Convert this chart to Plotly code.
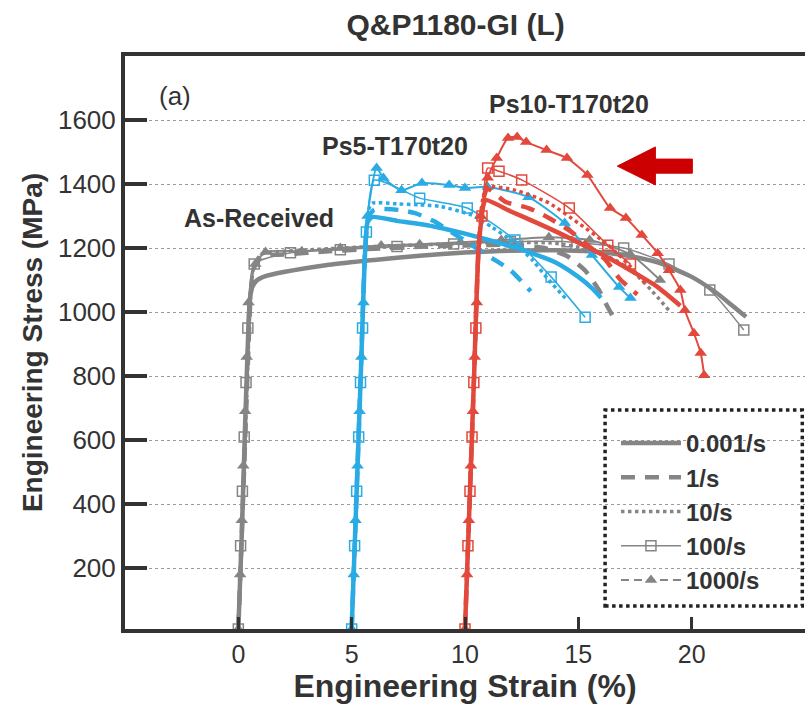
import plotly.graph_objects as go

# ---------------- data ----------------
rates = ["0.001/s", "1/s", "10/s", "100/s", "1000/s"]

# As-Received (gray)
ar_0001_x = [0, 0.15, 0.3, 0.42, 0.5, 0.6, 0.8, 1.2, 2, 4, 6, 8, 10, 12, 14, 15.5, 17, 18.5, 20, 21, 21.8, 22.4]
ar_0001_y = [10, 300, 650, 900, 1030, 1075, 1098, 1112, 1125, 1148, 1163, 1176, 1186, 1192, 1193, 1190, 1178, 1155, 1110, 1065, 1020, 985]
ar_1_x = [0, 0.2, 0.4, 0.55, 0.7, 1.0, 1.3, 2, 4, 6, 8, 10, 12, 13.5, 14.5, 15.3, 15.9, 16.3, 16.7]
ar_1_y = [10, 400, 800, 1060, 1140, 1170, 1178, 1180, 1190, 1198, 1204, 1208, 1210, 1200, 1175, 1130, 1070, 1015, 965]
ar_10_x = [0, 0.2, 0.4, 0.55, 0.7, 1.0, 1.3, 2, 4, 6, 8, 10, 12, 14, 15.5, 16.7, 17.5, 18.2, 19.0]
ar_10_y = [10, 400, 800, 1060, 1150, 1180, 1186, 1190, 1198, 1205, 1210, 1215, 1218, 1215, 1195, 1160, 1120, 1070, 1005]
ar_100_x = [0, 0.1, 0.18, 0.26, 0.34, 0.42, 0.7, 2.3, 4.5, 7, 9.5, 12, 14.5, 17, 19, 20.8, 22.3]
ar_100_y = [10, 270, 440, 610, 780, 950, 1150, 1185, 1195, 1205, 1213, 1220, 1220, 1200, 1150, 1069, 944]
ar_1000_x = [0, 0.08, 0.15, 0.22, 0.3, 0.37, 0.45, 0.75, 1.2, 2.8, 4.5, 6.3, 8, 9.8, 11.6, 13.7, 15.5, 17.3, 18.6]
ar_1000_y = [10, 180, 350, 520, 690, 860, 1030, 1150, 1188, 1190, 1200, 1208, 1212, 1218, 1225, 1234, 1225, 1180, 1100]

# Ps5-T170t20 (blue)
p5_0001_x = [5, 5.2, 5.4, 5.6, 5.7, 5.9, 7, 8, 9, 10, 11, 12, 13, 14, 15, 15.6, 16.0]
p5_0001_y = [10, 400, 800, 1200, 1280, 1297, 1285, 1275, 1262, 1245, 1226, 1206, 1183, 1155, 1110, 1075, 1045]
p5_1_x = [5, 5.2, 5.4, 5.6, 5.75, 6.0, 6.5, 7.1, 7.8, 8.6, 9.4, 10.3, 11.2, 12.0, 12.9]
p5_1_y = [10, 400, 800, 1200, 1300, 1320, 1322, 1319, 1309, 1285, 1250, 1209, 1168, 1131, 1065]
p5_10_x = [5, 5.2, 5.4, 5.6, 5.75, 5.9, 7, 8, 8.9, 10.3, 11.2, 12.2, 13.0, 13.7, 14.5]
p5_10_y = [10, 400, 800, 1200, 1320, 1340, 1338, 1335, 1330, 1303, 1265, 1216, 1160, 1100, 1038]
p5_100_x = [5, 5.13, 5.22, 5.31, 5.39, 5.48, 5.65, 6.0, 8.0, 10.1, 12.2, 13.8, 15.3]
p5_100_y = [10, 270, 440, 610, 780, 950, 1250, 1412, 1356, 1325, 1225, 1110, 984]
p5_1000_x = [5, 5.09, 5.17, 5.26, 5.35, 5.43, 5.52, 5.7, 6.1, 6.4, 7.2, 8.1, 9.3, 10.0, 11.0, 12.8, 14.4, 15.6, 16.8, 17.3]
p5_1000_y = [10, 180, 350, 520, 690, 860, 1030, 1300, 1450, 1419, 1381, 1403, 1397, 1388, 1391, 1359, 1278, 1178, 1078, 1044]

# Ps10-T170t20 (red)
p10_0001_x = [10, 10.2, 10.4, 10.6, 10.8, 10.9, 12, 13.2, 14.3, 15.4, 16.5, 17.5, 18.5, 19.5]
p10_0001_y = [10, 400, 800, 1200, 1330, 1350, 1315, 1278, 1242, 1203, 1163, 1122, 1078, 1020]
p10_1_x = [10, 10.2, 10.4, 10.6, 10.8, 11.0, 11.8, 12.8, 13.7, 14.6, 15.4, 16.2, 16.8, 17.6]
p10_1_y = [10, 400, 800, 1200, 1350, 1385, 1344, 1325, 1294, 1255, 1210, 1163, 1106, 1055]
p10_10_x = [10, 10.2, 10.4, 10.6, 10.8, 11.0, 12.2, 13.7, 15.0, 16.2, 17.2, 18.0]
p10_10_y = [10, 400, 800, 1200, 1360, 1391, 1381, 1341, 1278, 1216, 1150, 1085]
p10_100_x = [10, 10.13, 10.22, 10.31, 10.39, 10.48, 10.75, 11.0, 11.5, 12.5, 14.6, 16.3, 17.3]
p10_100_y = [10, 270, 440, 610, 780, 950, 1300, 1450, 1440, 1413, 1325, 1209, 1150]
p10_1000_x = [10, 10.09, 10.17, 10.26, 10.35, 10.43, 10.52, 10.7, 11.0, 11.4, 11.9, 12.3, 12.7, 13.6, 14.5, 15.4, 16.4, 17.1, 17.8, 18.5, 19.0, 19.5, 19.7, 20.1, 20.4, 20.55]
p10_1000_y = [10, 180, 350, 520, 690, 860, 1030, 1300, 1420, 1481, 1544, 1547, 1531, 1506, 1481, 1428, 1325, 1294, 1241, 1184, 1131, 1069, 1006, 934, 872, 803]

x_ticks = [0, 5, 10, 15, 20]
y_ticks = [200, 400, 600, 800, 1000, 1200, 1400, 1600]

GRAY = "#858585"
BLUE = "#2AABE3"
RED = "#E2493C"
DARK = "#333333"
FONT = "Liberation Sans, Arial, sans-serif"

groups = [
    (GRAY, [(ar_0001_x, ar_0001_y), (ar_1_x, ar_1_y), (ar_10_x, ar_10_y), (ar_100_x, ar_100_y), (ar_1000_x, ar_1000_y)]),
    (BLUE, [(p5_0001_x, p5_0001_y), (p5_1_x, p5_1_y), (p5_10_x, p5_10_y), (p5_100_x, p5_100_y), (p5_1000_x, p5_1000_y)]),
    (RED, [(p10_0001_x, p10_0001_y), (p10_1_x, p10_1_y), (p10_10_x, p10_10_y), (p10_100_x, p10_100_y), (p10_1000_x, p10_1000_y)]),
]


def style(rate, color, legend=False):
    if rate == "0.001/s":
        return dict(mode="lines", line=dict(color=color, width=4.5))
    if rate == "1/s":
        return dict(mode="lines", line=dict(color=color, width=4.5, dash="14px,10px"))
    if rate == "10/s":
        return dict(mode="lines", line=dict(color=color, width=3.5, dash="dot"))
    if rate == "100/s":
        return dict(mode="lines+markers", line=dict(color=color, width=1.5),
                    marker=dict(symbol="square-open", size=10, color=color, line=dict(width=1.5, color=color)))
    return dict(mode="lines+markers", line=dict(color=color, width=2, dash="8px,5px" if legend else "solid"),
                marker=dict(symbol="triangle-up", size=11, color=color))


fig = go.Figure()
for color, curves in groups:
    for rate, (xs, ys) in zip(rates, curves):
        st = style(rate, color)
        fig.add_trace(go.Scatter(x=xs, y=ys, showlegend=False, hoverinfo="skip",
                                 line_shape="spline", **st))
        fig.data[-1].line.smoothing = 0.6

for rate in rates:
    fig.add_trace(go.Scatter(x=[None], y=[None], name="<b>%s</b>" % rate, showlegend=True,
                             **style(rate, GRAY, legend=True)))

# annotations
ann = [
    dict(x=0.9, y=1294, text="<b>As-Received</b>"),
    dict(x=6.9, y=1519, text="<b>Ps5-T170t20</b>"),
    dict(x=14.6, y=1650, text="<b>Ps10-T170t20</b>"),
]
for a in ann:
    fig.add_annotation(x=a["x"], y=a["y"], text=a["text"], showarrow=False,
                       font=dict(size=25, color=DARK, family=FONT))
fig.add_annotation(x=-2.8, y=1675, text="(a)", showarrow=False,
                   font=dict(size=26, color=DARK, family=FONT))

# red arrow (pointing left)
arrow_path = "M 16.72,1456 L 18.4,1516 L 18.4,1478 L 20.03,1478 L 20.03,1434 L 18.4,1434 L 18.4,1397 Z"
fig.add_shape(type="path", path=arrow_path, xref="x", yref="y",
              fillcolor="#CC0000", line=dict(color="#CC0000", width=1))

# legend box (dotted)
fig.add_shape(type="rect", xref="paper", yref="paper", x0=0.706, x1=0.996, y0=0.040, y1=0.382,
              line=dict(color="#222222", width=3.5, dash="dot"))

fig.update_layout(
    width=805, height=707,
    margin=dict(l=125, r=0, t=56, b=78),
    paper_bgcolor="white", plot_bgcolor="white",
    title=dict(text="<b>Q&P1180-GI (L)</b>", x=0.566, xanchor="center", y=0.965, yanchor="middle",
               font=dict(size=30, color=DARK, family=FONT)),
    font=dict(family=FONT, color=DARK),
    legend=dict(x=0.722, y=0.363, xanchor="left", yanchor="top", bgcolor="rgba(0,0,0,0)",
                font=dict(size=24, color=DARK, family=FONT), itemwidth=60,
                tracegroupgap=0),
    showlegend=True,
)

fig.update_xaxes(range=[-5, 25], tickvals=x_ticks, ticks="inside", ticklen=12, tickwidth=3,
                 tickcolor=DARK, showline=True, linewidth=4, linecolor=DARK, mirror=True,
                 showgrid=False, zeroline=False,
                 tickfont=dict(size=25, color=DARK, family=FONT),
                 title=dict(text="<b>Engineering Strain (%)</b>", font=dict(size=32, color=DARK, family=FONT),
                            standoff=2))
fig.update_yaxes(range=[10, 1800], tickvals=y_ticks, ticks="inside", ticklen=22, tickwidth=4,
                 tickcolor=DARK, showline=True, linewidth=4, linecolor=DARK,
                 showgrid=True, gridcolor="#9a9a9a", griddash="dot", gridwidth=1, zeroline=False,
                 tickfont=dict(size=26, color=DARK, family=FONT),
                 title=dict(text="<b>Engineering Stress (MPa)</b>", font=dict(size=28, color=DARK, family=FONT),
                            standoff=8))

fig.write_html("out.html")
